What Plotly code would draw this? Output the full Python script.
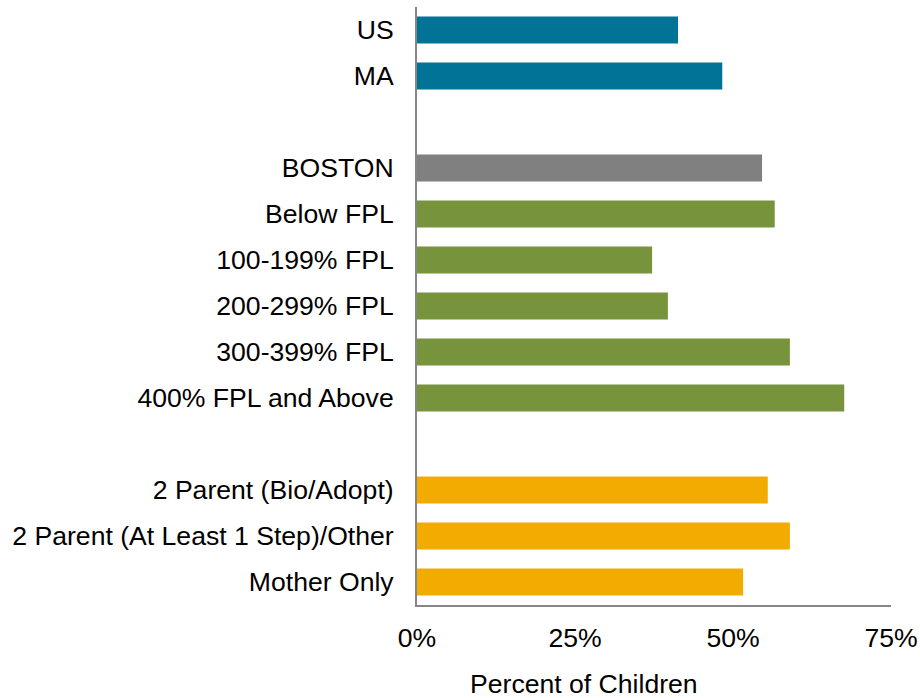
import plotly.graph_objects as go

# Share of children, by group (fraction of 1)
categories = [
    "US", "MA",
    "BOSTON", "Below FPL", "100-199% FPL", "200-299% FPL", "300-399% FPL", "400% FPL and Above",
    "2 Parent (Bio/Adopt)", "2 Parent (At Least 1 Step)/Other", "Mother Only",
]
values = [0.413, 0.483, 0.546, 0.566, 0.372, 0.397, 0.590, 0.676, 0.555, 0.590, 0.516]
groups = [0, 0, 1, 1, 1, 1, 1, 1, 2, 2, 2]

group_colors = {0: "#007396", 1: "#77933C", 2: "#F2AB00"}
boston_color = "#808080"

x_ticks = [0, 0.25, 0.5, 0.75]
x_tick_labels = ["0%", "25%", "50%", "75%"]

# Row positions: one blank row between groups, top to bottom
positions = []
pos = 0
prev = groups[0]
for g in groups:
    if g != prev:
        pos += 1
        prev = g
    positions.append(pos)
    pos += 1
n_rows = pos

colors = [boston_color if c == "BOSTON" else group_colors[g] for c, g in zip(categories, groups)]

fig = go.Figure(
    go.Bar(
        x=values,
        y=positions,
        orientation="h",
        marker=dict(color=colors, line=dict(width=0)),
        width=0.59,
        hoverinfo="skip",
    )
)

font_family = "Liberation Sans, Arial, sans-serif"
font_size = 26.6

fig.update_layout(
    width=920,
    height=698,
    margin=dict(l=417, r=29, t=7, b=93),
    paper_bgcolor="white",
    plot_bgcolor="white",
    showlegend=False,
    font=dict(family=font_family, size=font_size, color="black"),
)

fig.update_xaxes(
    range=[0, 0.75],
    tickvals=x_ticks,
    ticktext=x_tick_labels,
    showgrid=False,
    zeroline=False,
    showline=True,
    linecolor="#868686",
    linewidth=2,
    ticks="",
    ticklabelstandoff=8,
    automargin=False,
    tickfont=dict(size=font_size, color="black"),
)

fig.update_yaxes(
    range=[n_rows - 0.5, -0.5],
    tickvals=positions,
    ticktext=categories,
    showgrid=False,
    zeroline=False,
    showline=True,
    linecolor="#868686",
    linewidth=2,
    ticks="",
    ticklabelstandoff=16,
    automargin=False,
    tickfont=dict(size=font_size, color="black"),
)

fig.add_annotation(
    text="Percent of Children",
    xref="paper",
    yref="paper",
    x=(584 - 417) / 474,
    y=-(684 - 605) / 598,
    xanchor="center",
    yanchor="middle",
    showarrow=False,
    font=dict(family=font_family, size=font_size, color="black"),
)

fig.write_html("out.html")
